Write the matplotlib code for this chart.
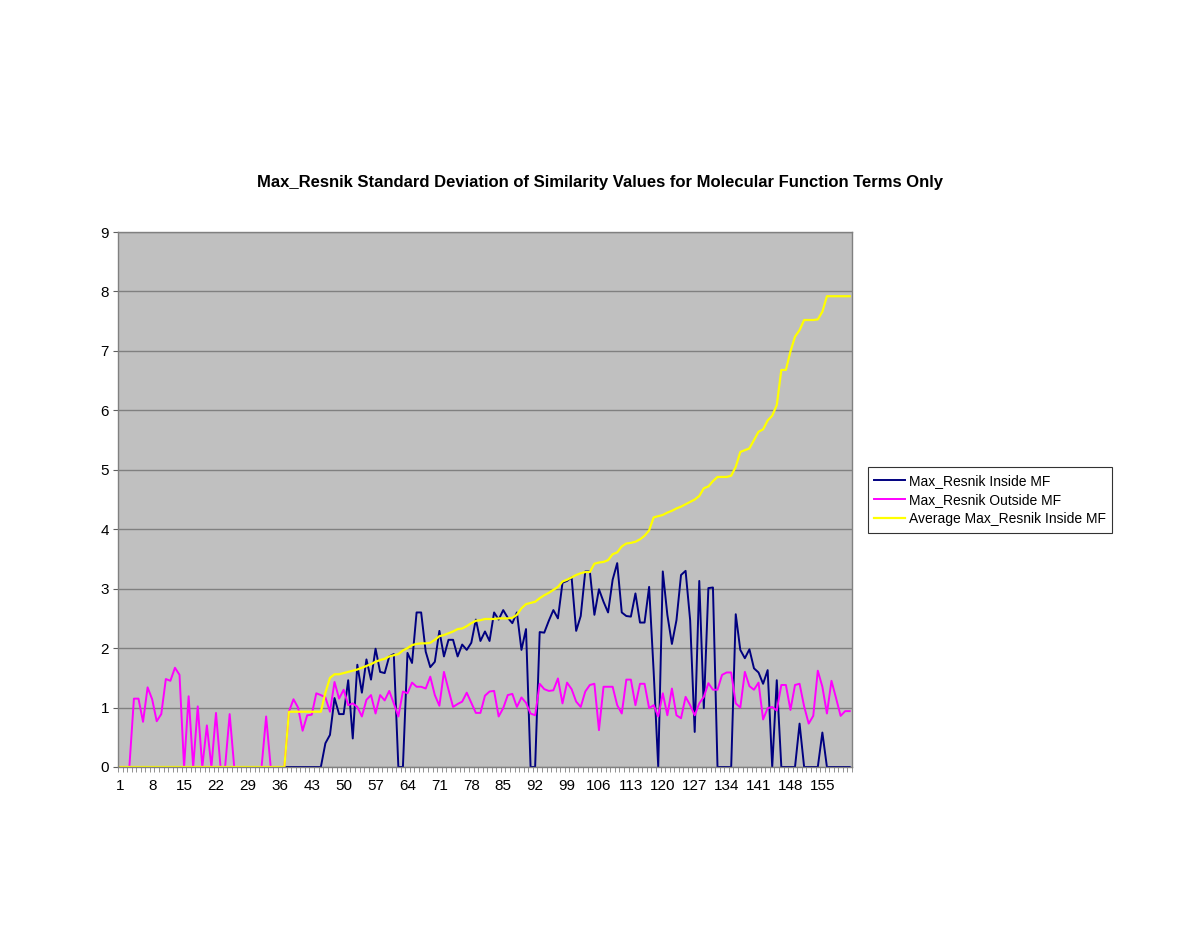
import numpy as np
import matplotlib
matplotlib.use("Agg")
import matplotlib.pyplot as plt
from matplotlib.ticker import FixedLocator

plt.rcParams['font.family'] = ['Liberation Sans', 'DejaVu Sans']

# Category index along the x axis (1..161)
categories = list(range(1, 162))

# Max_Resnik Inside MF (navy)
inside_mf = ([0.0] * 45 +
             [0.40, 0.54, 1.16, 0.89, 0.89, 1.46, 0.48, 1.72, 1.25, 1.81,
              1.47, 1.99, 1.60, 1.58, 1.86, 1.90, 0.00, 0.00, 1.92, 1.75,
              2.60, 2.60, 1.94, 1.68, 1.77, 2.29, 1.86, 2.14, 2.14, 1.86,
              2.06, 1.97, 2.09, 2.48, 2.12, 2.28, 2.12, 2.60, 2.48, 2.64,
              2.51, 2.42, 2.60, 1.97, 2.32, 0.00, 0.00, 2.27, 2.26, 2.46,
              2.64, 2.50, 3.10, 3.13, 3.19, 2.29, 2.54, 3.29, 3.29, 2.56,
              2.99, 2.78, 2.60, 3.15, 3.43, 2.60, 2.54, 2.53, 2.92, 2.43,
              2.43, 3.03, 1.60, 0.00, 3.29, 2.56, 2.07, 2.47, 3.23, 3.30,
              2.47, 0.59, 3.13, 0.99, 3.01, 3.02, 0.00, 0.00, 0.00, 0.00,
              2.57, 1.97, 1.83, 1.98, 1.66, 1.59, 1.40, 1.63, 0.00, 1.46,
              0.00, 0.00, 0.00, 0.00, 0.73, 0.00, 0.00, 0.00, 0.00, 0.58,
              0.00, 0.00, 0.00, 0.00, 0.00, 0.00])

# Max_Resnik Outside MF (magenta)
outside_mf = [0.00, 0.00, 0.00, 1.15, 1.15, 0.76, 1.34, 1.14, 0.77, 0.89,
              1.48, 1.45, 1.67, 1.55, 0.00, 1.19, 0.00, 1.02, 0.00, 0.70,
              0.00, 0.91, 0.00, 0.00, 0.89, 0.00, 0.00, 0.00, 0.00, 0.00,
              0.00, 0.00, 0.85, 0.00, 0.00, 0.00, 0.00, 0.93, 1.14, 1.00,
              0.61, 0.87, 0.88, 1.24, 1.21, 1.17, 0.93, 1.43, 1.15, 1.30,
              1.04, 1.07, 1.01, 0.85, 1.13, 1.21, 0.90, 1.21, 1.12, 1.28,
              1.07, 0.85, 1.27, 1.24, 1.42, 1.35, 1.35, 1.32, 1.52, 1.21,
              1.03, 1.60, 1.30, 1.01, 1.06, 1.10, 1.25, 1.08, 0.91, 0.91,
              1.20, 1.27, 1.28, 0.85, 0.99, 1.21, 1.23, 1.01, 1.17, 1.08,
              0.90, 0.87, 1.40, 1.31, 1.28, 1.29, 1.49, 1.07, 1.42, 1.31,
              1.10, 1.01, 1.27, 1.38, 1.40, 0.62, 1.35, 1.35, 1.35, 1.04,
              0.90, 1.47, 1.47, 1.04, 1.40, 1.40, 0.99, 1.04, 0.85, 1.24,
              0.87, 1.32, 0.87, 0.82, 1.18, 1.04, 0.87, 1.07, 1.18, 1.41,
              1.30, 1.30, 1.55, 1.59, 1.59, 1.07, 1.00, 1.60, 1.36, 1.30,
              1.42, 0.80, 0.99, 1.01, 0.95, 1.38, 1.38, 0.96, 1.38, 1.40,
              1.02, 0.73, 0.86, 1.62, 1.35, 0.90, 1.45, 1.16, 0.86, 0.94,
              0.94]

# Average Max_Resnik Inside MF (yellow)
average_inside = ([0.0] * 37 + [0.93] * 8 +
                  [1.25, 1.50, 1.56, 1.56, 1.58, 1.60, 1.62, 1.64, 1.67, 1.70,
                   1.73, 1.77, 1.80, 1.82, 1.86, 1.88, 1.90, 1.96, 2.00, 2.05,
                   2.07, 2.08, 2.08, 2.09, 2.14, 2.20, 2.22, 2.25, 2.28, 2.32,
                   2.33, 2.37, 2.42, 2.46, 2.47, 2.49, 2.49, 2.49, 2.50, 2.50,
                   2.50, 2.51, 2.56, 2.67, 2.74, 2.76, 2.78, 2.84, 2.89, 2.93,
                   2.98, 3.03, 3.12, 3.15, 3.19, 3.23, 3.26, 3.28, 3.28, 3.42,
                   3.44, 3.45, 3.48, 3.58, 3.61, 3.71, 3.76, 3.77, 3.79, 3.83,
                   3.89, 3.98, 4.20, 4.22, 4.24, 4.28, 4.31, 4.35, 4.38, 4.42,
                   4.46, 4.50, 4.56, 4.69, 4.72, 4.81, 4.88, 4.88, 4.88, 4.90,
                   5.05, 5.30, 5.33, 5.36, 5.50, 5.64, 5.68, 5.83, 5.91, 6.09,
                   6.68, 6.68, 6.99, 7.24, 7.35, 7.52, 7.52, 7.52, 7.53, 7.66,
                   7.92, 7.92, 7.92, 7.92, 7.92, 7.92])

series_labels = ['Max_Resnik Inside MF', 'Max_Resnik Outside MF',
                 'Average Max_Resnik Inside MF']
x_tick_labels = list(range(1, 162, 7))

fig = plt.figure(figsize=(12, 9.27), dpi=100)
ax = fig.add_axes([0.0983, 0.1726, 0.6117, 0.5771])
ax.set_facecolor('#C0C0C0')

l1, = ax.plot(categories, inside_mf, color='#000080', lw=1.4)
l2, = ax.plot(categories, outside_mf, color='#FF00FF', lw=1.4)
l3, = ax.plot(categories, average_inside, color='#FFFF00', lw=1.6)

ax.set_xlim(0.5, 161.5)
ax.set_ylim(0, 9)
ax.set_yticks(range(0, 10))
ax.yaxis.grid(True, color='#808080', lw=1)
ax.set_axisbelow(True)

ax.set_xticks(x_tick_labels)
ax.set_xticklabels([str(v) for v in x_tick_labels])
ax.xaxis.set_minor_locator(FixedLocator(np.arange(0.5, 162, 1)))
ax.tick_params(axis='x', which='major', length=0, pad=9, labelsize=11)
ax.tick_params(axis='x', which='minor', length=3.5, color='#808080')
ax.tick_params(axis='y', length=3.5, color='#606060', labelsize=11, pad=3)

for s in ax.spines.values():
    s.set_color('#808080')
    s.set_linewidth(1)

fig.text(0.5, 1 - 183 / 927,
         'Max_Resnik Standard Deviation of Similarity Values for Molecular Function Terms Only',
         ha='center', va='center', fontsize=12, fontweight='bold')

leg = fig.legend([l1, l2, l3], series_labels, loc='center left',
                 bbox_to_anchor=(861 / 1200, 1 - 500 / 927), fontsize=10,
                 frameon=True, fancybox=False, handlelength=2.2,
                 handletextpad=0.3, borderpad=0.45, labelspacing=0.38)
leg.get_frame().set_edgecolor('#000000')
leg.get_frame().set_linewidth(0.8)

fig.savefig('out.png', dpi=100, facecolor='white')
